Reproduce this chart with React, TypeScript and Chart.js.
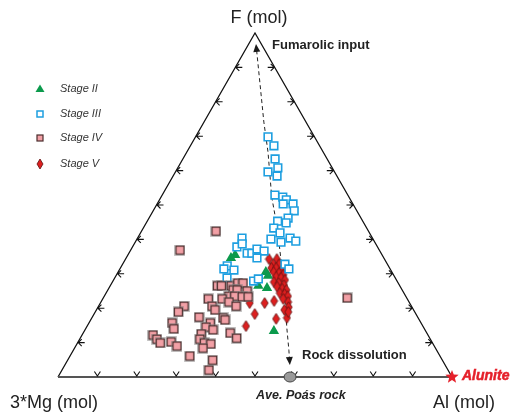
import React, { useEffect, useRef } from 'react';
import { Chart, registerables } from 'chart.js';
Chart.register(...registerables);

// Ternary compositions: [F %, Al %]; 3*Mg % = 100 - F - Al
type TP = [number, number];

const stageII: TP[] = [
  [34.6, 26.6], [35.5, 27.2], [30.5, 37.5], [29.4, 38.6], [26.5, 37.6], [25.9, 40.1], [13.4, 48.1],
];

const stageIII: TP[] = [
  [69.8, 18.4], [67.2, 21.2], [63.4, 23.4], [60.8, 25.4], [59.6, 23.5], [58.4, 26.4], [52.9, 28.6],
  [52.3, 30.9], [51.5, 32.2], [50.3, 34.5], [50.3, 32.0], [48.3, 35.8], [46.2, 35.3], [45.3, 33.1],
  [44.8, 35.5], [43.3, 33.1], [41.9, 35.4], [40.1, 34.0], [39.2, 37.0], [40.4, 38.7], [39.5, 40.6],
  [40.4, 26.5], [37.8, 26.5], [38.7, 27.4], [36.0, 30.0], [36.0, 31.2], [37.2, 31.9], [36.6, 34.0],
  [34.6, 33.2], [32.3, 26.8], [31.4, 26.4], [31.1, 29.1], [28.8, 28.5], [32.8, 41.2], [31.4, 42.9],
  [27.9, 35.7], [28.5, 36.6],
];

const stageIV: TP[] = [
  [42.4, 18.9], [36.9, 12.5], [26.5, 27.2], [26.5, 28.2], [26.5, 30.7], [27.3, 32.0], [27.3, 33.3],
  [25.3, 31.8], [25.3, 32.8], [25.0, 35.5], [23.5, 31.6], [23.5, 33.1], [23.3, 35.1], [23.3, 36.6],
  [22.7, 30.3], [22.7, 26.8], [21.8, 32.5], [20.6, 34.9], [20.6, 28.8], [19.5, 30.1], [20.6, 21.7],
  [18.9, 21.1], [17.4, 27.1], [17.2, 33.3], [16.6, 34.1], [15.7, 30.8], [14.5, 30.3], [13.7, 32.5],
  [15.7, 21.1], [14.0, 22.4], [12.2, 18.0], [11.0, 19.6], [9.9, 21.0], [10.2, 23.6], [9.0, 25.7],
  [12.5, 30.1], [11.0, 30.5], [9.9, 32.2], [9.6, 34.0], [8.4, 32.6], [12.8, 37.3], [11.3, 39.7],
  [6.1, 30.4], [4.9, 36.8], [2.0, 37.3], [23.0, 61.9],
];

const stageV: TP[] = [
  [34.3, 36.4], [34.3, 38.4], [32.8, 38.2], [32.8, 39.7], [31.7, 38.3], [31.7, 39.5], [31.1, 41.3],
  [30.5, 39.5], [30.2, 41.0], [29.7, 42.3], [29.1, 40.8], [28.8, 42.2], [28.2, 43.5], [27.6, 41.0],
  [27.3, 42.4], [26.7, 44.0], [26.2, 42.5], [25.6, 44.1], [25.3, 45.3], [24.4, 44.1], [24.1, 45.5],
  [23.5, 46.6], [22.1, 43.8], [22.7, 45.8], [21.8, 47.5], [21.5, 41.7], [21.5, 37.9], [20.3, 48.4],
  [17.2, 49.5], [16.9, 46.9], [18.3, 40.8], [14.8, 40.3], [19.5, 47.7], [18.9, 49.0],
];

// Trend arrow: fumarolic input (top) to rock dissolution (bottom)
const trendPath: TP[] = [
  [96.8, 1.85], [74.1, 15.2], [65.4, 20.6], [52.3, 28.1], [45.6, 32.5], [39.0, 36.6],
  [25.3, 44.8], [14.0, 51.1], [7.8, 54.7], [3.5, 57.1],
];
const avePoasRock: TP = [0, 58.9];
const alunite: TP = [0, 100];
const tickValues = [10, 20, 30, 40, 50, 60, 70, 80, 90];
const seriesLabels = ['Stage II', 'Stage III', 'Stage IV', 'Stage V'];
const vertexLabels = ['F (mol)', '3*Mg (mol)', 'Al (mol)'];
const annotationLabels = ['Fumarolic input', 'Rock dissolution', 'Ave. Poás rock', 'Alunite'];

const GREEN = '#0b9a4c';
const BLUE = '#1e9fe0';
const PINK = '#f2a0a6';
const PINK_EDGE = '#4a2c2c';
const RED = '#dd1f1f';
const RED_EDGE = '#5a1212';
const FONT = '"Liberation Sans", Arial, sans-serif';

const toXY = (p: TP) => ({ x: (p[1] + p[0] / 2) / 100, y: p[0] / 100 });

function makeDiamond(w: number, h: number) {
  const c = document.createElement('canvas');
  c.width = w + 2;
  c.height = h + 2;
  const g = c.getContext('2d')!;
  g.beginPath();
  g.moveTo(c.width / 2, 1);
  g.lineTo(c.width - 1, c.height / 2);
  g.lineTo(c.width / 2, c.height - 1);
  g.lineTo(1, c.height / 2);
  g.closePath();
  g.fillStyle = RED;
  g.fill();
  g.lineWidth = 0.8;
  g.strokeStyle = RED_EDGE;
  g.stroke();
  return c;
}

function makePinkSquare(s: number) {
  const c = document.createElement('canvas');
  c.width = s + 4;
  c.height = s + 4;
  const g = c.getContext('2d')!;
  g.fillStyle = 'rgba(140,140,140,0.45)';
  g.fillRect(0, 0, s + 4, s + 4);
  g.fillStyle = PINK;
  g.fillRect(1.5, 1.5, s + 1, s + 1);
  g.lineWidth = 1.2;
  g.strokeStyle = PINK_EDGE;
  g.strokeRect(1.5, 1.5, s + 1, s + 1);
  return c;
}

const framePlugin = {
  id: 'ternaryFrame',
  beforeDatasetsDraw(chart: any) {
    const ctx = chart.ctx as CanvasRenderingContext2D;
    const sx = chart.scales.x;
    const sy = chart.scales.y;
    const P = (f: number, al: number): [number, number] => [
      sx.getPixelForValue((al + f / 2) / 100),
      sy.getPixelForValue(f / 100),
    ];
    ctx.save();
    const top = P(100, 0);
    const left = P(0, 0);
    const right = P(0, 100);
    ctx.lineCap = 'butt';
    ctx.strokeStyle = '#111';
    ctx.lineWidth = 1.3;
    ctx.beginPath();
    ctx.moveTo(left[0], left[1]);
    ctx.lineTo(top[0], top[1]);
    ctx.lineTo(right[0], right[1]);
    ctx.stroke();
    ctx.strokeStyle = '#555';
    ctx.lineWidth = 1.8;
    ctx.beginPath();
    ctx.moveTo(left[0], left[1]);
    ctx.lineTo(right[0], right[1]);
    ctx.stroke();

    ctx.strokeStyle = '#111';
    ctx.lineWidth = 1.1;
    tickValues.forEach((t) => {
      // left edge: F = t, Al = 0
      const [lx, ly] = P(t, 0);
      ctx.beginPath();
      ctx.moveTo(lx, ly);
      ctx.lineTo(lx + 7, ly);
      ctx.moveTo(lx + 4, ly - 3.5);
      ctx.lineTo(lx + 0.5, ly);
      ctx.lineTo(lx + 4, ly + 3.5);
      ctx.stroke();
      // right edge: F = t, Al = 100 - t
      const [rx, ry] = P(t, 100 - t);
      ctx.beginPath();
      ctx.moveTo(rx, ry);
      ctx.lineTo(rx - 7, ry);
      ctx.moveTo(rx - 4, ry - 3.5);
      ctx.lineTo(rx - 0.5, ry);
      ctx.lineTo(rx - 4, ry + 3.5);
      ctx.stroke();
      // base: F = 0, Al = t
      const [bx, by] = P(0, t);
      ctx.beginPath();
      ctx.moveTo(bx - 3, by - 5.5);
      ctx.lineTo(bx, by - 1);
      ctx.lineTo(bx + 3, by - 5.5);
      ctx.stroke();
    });

    // dashed trend line with arrowheads
    const pts = trendPath.map((p) => P(p[0], p[1]));
    const head = 8;
    const shorten = (a: [number, number], b: [number, number]): [number, number] => {
      const dx = a[0] - b[0];
      const dy = a[1] - b[1];
      const L = Math.hypot(dx, dy);
      return [a[0] - (dx / L) * head * 0.8, a[1] - (dy / L) * head * 0.8];
    };
    const n = pts.length;
    const start = shorten(pts[0], pts[1]);
    const end = shorten(pts[n - 1], pts[n - 2]);
    ctx.setLineDash([4, 3]);
    ctx.strokeStyle = '#222';
    ctx.lineWidth = 1;
    ctx.beginPath();
    ctx.moveTo(start[0], start[1]);
    for (let i = 1; i < n - 1; i++) ctx.lineTo(pts[i][0], pts[i][1]);
    ctx.lineTo(end[0], end[1]);
    ctx.stroke();
    ctx.setLineDash([]);
    const arrow = (tip: [number, number], from: [number, number]) => {
      const dx = tip[0] - from[0];
      const dy = tip[1] - from[1];
      const L = Math.hypot(dx, dy);
      const ux = dx / L;
      const uy = dy / L;
      const bx = tip[0] - ux * head;
      const by = tip[1] - uy * head;
      ctx.beginPath();
      ctx.moveTo(tip[0], tip[1]);
      ctx.lineTo(bx - uy * 3.5, by + ux * 3.5);
      ctx.lineTo(bx + uy * 3.5, by - ux * 3.5);
      ctx.closePath();
      ctx.fillStyle = '#1a1a1a';
      ctx.fill();
    };
    arrow(pts[0], pts[1]);
    arrow(pts[n - 1], pts[n - 2]);
    ctx.restore();
  },
  afterDatasetsDraw(chart: any) {
    const ctx = chart.ctx as CanvasRenderingContext2D;
    const sx = chart.scales.x;
    const sy = chart.scales.y;
    const P = (f: number, al: number): [number, number] => [
      sx.getPixelForValue((al + f / 2) / 100),
      sy.getPixelForValue(f / 100),
    ];
    ctx.save();
    // Ave. Poas rock ellipse
    const [ex, ey] = P(avePoasRock[0], avePoasRock[1]);
    ctx.beginPath();
    ctx.ellipse(ex, ey, 6, 5, 0, 0, Math.PI * 2);
    ctx.fillStyle = '#9a9a9a';
    ctx.fill();
    ctx.lineWidth = 1;
    ctx.strokeStyle = '#444';
    ctx.stroke();
    // Alunite star
    const [ax, ay] = P(alunite[0], alunite[1]);
    ctx.beginPath();
    for (let i = 0; i < 10; i++) {
      const r = i % 2 === 0 ? 7 : 3;
      const a = -Math.PI / 2 + (i * Math.PI) / 5;
      const x = ax + Math.cos(a) * r;
      const y = ay + Math.sin(a) * r;
      if (i === 0) ctx.moveTo(x, y);
      else ctx.lineTo(x, y);
    }
    ctx.closePath();
    ctx.fillStyle = '#e5202a';
    ctx.fill();

    // vertex labels
    const [tx, tyy] = P(100, 0);
    ctx.fillStyle = '#222';
    ctx.font = `18px ${FONT}`;
    ctx.textBaseline = 'alphabetic';
    ctx.textAlign = 'center';
    ctx.fillText(vertexLabels[0], tx + 4, tyy - 10);
    ctx.textAlign = 'left';
    ctx.fillText(vertexLabels[1], 10, 408);
    ctx.fillText(vertexLabels[2], 433, 408);

    // annotations
    ctx.font = `bold 13px ${FONT}`;
    ctx.fillStyle = '#222';
    ctx.fillText(annotationLabels[0], 272, 49);
    ctx.fillText(annotationLabels[1], 302, 359);
    ctx.font = `italic bold 12.5px ${FONT}`;
    ctx.fillText(annotationLabels[2], 256, 399);
    ctx.font = `italic bold 14px ${FONT}`;
    ctx.fillStyle = '#e5202a';
    ctx.fillText(annotationLabels[3], 462, 380);
    ctx.lineWidth = 0.5;
    ctx.strokeStyle = '#e5202a';
    ctx.strokeText(annotationLabels[3], 462, 380);

    // legend
    const ly = [89, 114, 138, 164];
    const lx = 40;
    ctx.beginPath();
    ctx.moveTo(lx, ly[0] - 4.5);
    ctx.lineTo(lx + 4.5, ly[0] + 3);
    ctx.lineTo(lx - 4.5, ly[0] + 3);
    ctx.closePath();
    ctx.fillStyle = GREEN;
    ctx.fill();
    ctx.fillStyle = '#fff';
    ctx.fillRect(lx - 3, ly[1] - 3, 6, 6);
    ctx.lineWidth = 1.5;
    ctx.strokeStyle = BLUE;
    ctx.strokeRect(lx - 3, ly[1] - 3, 6, 6);
    ctx.fillStyle = PINK;
    ctx.fillRect(lx - 3, ly[2] - 3, 6, 6);
    ctx.lineWidth = 1.2;
    ctx.strokeStyle = PINK_EDGE;
    ctx.strokeRect(lx - 3, ly[2] - 3, 6, 6);
    ctx.beginPath();
    ctx.moveTo(lx, ly[3] - 5);
    ctx.lineTo(lx + 3, ly[3]);
    ctx.lineTo(lx, ly[3] + 5);
    ctx.lineTo(lx - 3, ly[3]);
    ctx.closePath();
    ctx.fillStyle = RED;
    ctx.fill();
    ctx.lineWidth = 0.8;
    ctx.strokeStyle = RED_EDGE;
    ctx.stroke();

    ctx.font = `italic 11px ${FONT}`;
    ctx.fillStyle = '#333';
    ctx.textBaseline = 'middle';
    seriesLabels.forEach((s, i) => ctx.fillText(s, 60, ly[i]));
    ctx.restore();
  },
};

export default function App() {
  const ref = useRef<HTMLCanvasElement | null>(null);
  useEffect(() => {
    if (!ref.current) return;
    const diamond = makeDiamond(7, 11);
    const pinkSq = makePinkSquare(7);
    const chart = new Chart(ref.current, {
      type: 'scatter',
      data: {
        datasets: [
          {
            label: seriesLabels[2],
            data: stageIV.map(toXY),
            pointStyle: pinkSq as any,
            pointRadius: 6,
          },
          {
            label: seriesLabels[1],
            data: stageIII.map(toXY),
            pointStyle: 'rect',
            pointRadius: 5.4,
            borderWidth: 1.6,
            borderColor: BLUE,
            backgroundColor: '#ffffff',
          },
          {
            label: seriesLabels[3],
            data: stageV.map(toXY),
            pointStyle: diamond as any,
            pointRadius: 6,
          },
          {
            label: seriesLabels[0],
            data: stageII.map(toXY),
            pointStyle: 'triangle',
            pointRadius: 6,
            borderWidth: 0,
            borderColor: GREEN,
            backgroundColor: GREEN,
          },
        ],
      },
      options: {
        responsive: false,
        animation: false,
        events: [],
        layout: { padding: 0, autoPadding: false },
        plugins: { legend: { display: false }, tooltip: { enabled: false } },
        scales: {
          x: { type: 'linear', display: false, min: -58 / 394, max: 452 / 394 },
          y: { type: 'linear', display: false, min: -35 / 344, max: 377 / 344 },
        },
      },
      plugins: [framePlugin],
    });
    return () => chart.destroy();
  }, []);
  return (
    <div style={{ position: 'fixed', left: 0, top: 0, width: 510, height: 412, background: '#fff' }}>
      <canvas ref={ref} width={510} height={412} style={{ display: 'block' }} />
    </div>
  );
}
